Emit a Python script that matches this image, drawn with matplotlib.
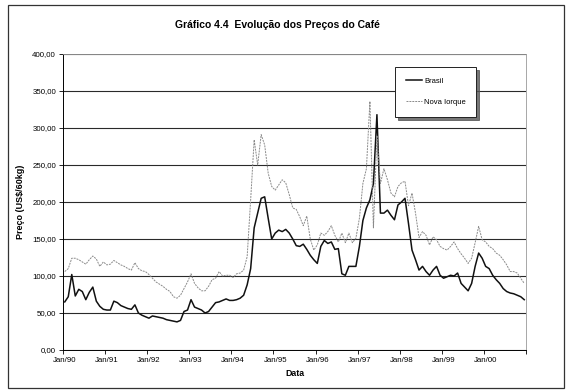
import numpy as np
import matplotlib
matplotlib.use("Agg")
import matplotlib.pyplot as plt
from matplotlib.patches import Rectangle

plt.rcParams['font.family'] = ['Liberation Sans', 'DejaVu Sans']

# monthly prices (US$/60kg), Jan/90 .. Dec/00
brasil = [
    65, 72, 102, 73, 82, 79, 68, 78, 85, 66, 59, 55,        # 1990
    54, 54, 66, 64, 60, 58, 56, 55, 61, 50, 47, 45,         # 1991
    43, 46, 45, 44, 43, 41, 40, 39, 38, 40, 52, 54,         # 1992
    68, 58, 56, 54, 50, 52, 58, 64, 65, 67, 69, 67,         # 1993
    67, 68, 70, 74, 88, 110, 165, 185, 205, 207, 178, 150,  # 1994
    158, 162, 160, 163, 158, 150, 141, 140, 143, 136, 128, 122,  # 1995
    117, 140, 148, 144, 146, 136, 137, 103, 101, 113, 113, 113,  # 1996
    140, 175, 192, 203, 225, 318, 185, 185, 189, 182, 176, 196,  # 1997
    200, 205, 171, 135, 122, 108, 113, 106, 101, 108, 113, 101,  # 1998
    97, 99, 101, 100, 104, 90, 85, 80, 90, 113, 131, 124,        # 1999
    113, 110, 101, 95, 90, 83, 79, 77, 76, 74, 72, 68,           # 2000
]
nova_iorque = [
    106, 110, 124, 124, 122, 119, 116, 122, 127, 123, 113, 119,
    115, 116, 121, 118, 115, 113, 110, 108, 118, 110, 107, 106,
    102, 97, 92, 89, 86, 82, 79, 72, 70, 74, 83, 92,
    103, 90, 84, 80, 80, 86, 95, 97, 106, 100, 101, 101,
    98, 103, 104, 108, 126, 203, 284, 250, 291, 277, 239, 221,
    216, 223, 230, 226, 210, 192, 190, 180, 168, 181, 150, 135,
    142, 158, 155, 160, 168, 155, 146, 158, 145, 158, 145, 151,
    178, 225, 245, 336, 165, 290, 225, 245, 230, 212, 207, 221,
    226, 228, 195, 212, 185, 152, 160, 155, 142, 153, 149, 140,
    137, 135, 140, 146, 137, 130, 124, 117, 124, 145, 167, 149,
    146, 140, 137, 131, 128, 122, 115, 106, 106, 104, 97, 90,
]
year_labels = ['Jan/90', 'Jan/91', 'Jan/92', 'Jan/93', 'Jan/94', 'Jan/95',
               'Jan/96', 'Jan/97', 'Jan/98', 'Jan/99', 'Jan/00']

months = np.arange(len(brasil))

fig = plt.figure(figsize=(5.69, 3.91), dpi=100)
ax = fig.add_axes([63/569, 1 - 350/391, 463/569, 296/391])

# outer chart frame
fig.patches.append(Rectangle((8/569, 3/391), 556/569, 383/391, transform=fig.transFigure,
                             fill=False, edgecolor='#333333', linewidth=0.9))

ax.plot(months, brasil, color='#111111', linewidth=1.1, label='Brasil')
ax.plot(months, nova_iorque, color='#8a8a8a', linewidth=0.7, linestyle=(0, (2, 1)),
        label='Nova Iorque')

ax.set_xlim(-0.5, len(brasil) - 0.5)
ax.set_ylim(0, 400)
ax.set_yticks(np.arange(0, 401, 50))
ax.set_yticklabels([f'{v:.2f}'.replace('.', ',') for v in np.arange(0, 401, 50)], fontsize=5.7)
ax.set_xticks(np.arange(0, len(brasil), 12))
ax.set_xticklabels(year_labels, fontsize=5.7)
ax.set_xticks(np.arange(-0.5, len(brasil), 12), minor=True)
ax.tick_params(axis='x', which='major', length=0, pad=5)
ax.tick_params(axis='x', which='minor', length=3, width=0.6, direction='out')
ax.tick_params(axis='y', length=3, width=0.6, pad=2)

ax.grid(axis='y', color='#2a2a2a', linewidth=0.8)
ax.set_axisbelow(True)
for side in ['top', 'right']:
    ax.spines[side].set_color('#999999')
    ax.spines[side].set_linewidth(0.6)
    ax.spines[side].set_linestyle((0, (2, 1)))
ax.spines['left'].set_linewidth(0.7)
ax.spines['bottom'].set_linewidth(0.7)

ax.set_ylabel('Preço (US$/60kg)', fontsize=6.5, fontweight='bold', labelpad=5)
ax.set_xlabel('Data', fontsize=6.3, fontweight='bold', labelpad=4)
fig.text(277/569, 1 - 25/391, 'Gráfico 4.4  Evolução dos Preços do Café',
         ha='center', va='center', fontsize=7.5, fontweight='bold')

leg = ax.legend(loc='upper left', bbox_to_anchor=(0.717, 0.956), fontsize=5.5,
                frameon=True, fancybox=False, shadow={'color': '#555555', 'alpha': 0.8},
                labelspacing=1.8, handlelength=2.2, handletextpad=0.2,
                borderpad=1.4, borderaxespad=0)
leg.get_frame().set_edgecolor('#222222')
leg.get_frame().set_linewidth(0.7)
leg.get_frame().set_alpha(1)

fig.savefig('out.png', dpi=100)
